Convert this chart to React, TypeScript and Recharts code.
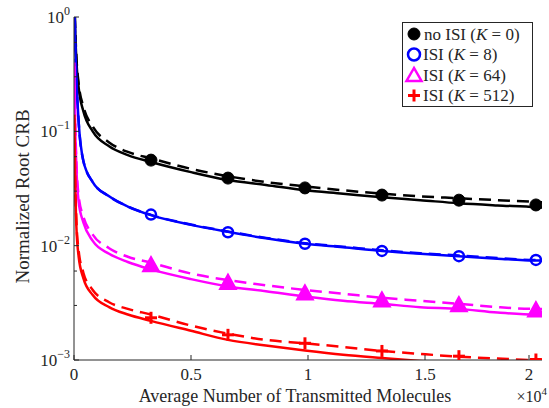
import React from "react";
import { ComposedChart, Line, XAxis, YAxis, Legend } from "recharts";

// x positions of the curve samples (molecules)
const xs = [15, 40, 100, 200, 400, 800, 1500, 2300, 3290, 5000, 6580, 8200, 9870, 11500, 13160, 14800, 16450, 18100, 19740, 20000];

const blackSolid = [1.5, 0.9, 0.42, 0.24, 0.15, 0.1, 0.074, 0.062, 0.054, 0.044, 0.0375, 0.034, 0.0305, 0.0285, 0.0265, 0.025, 0.0235, 0.0225, 0.0217, 0.0215];
const blackDashed = [1.5, 0.95, 0.46, 0.26, 0.165, 0.11, 0.08, 0.066, 0.058, 0.047, 0.0405, 0.036, 0.033, 0.0305, 0.0285, 0.027, 0.026, 0.025, 0.0242, 0.024];
const blueSolid = [2, 0.8, 0.3, 0.12, 0.055, 0.036, 0.027, 0.022, 0.0185, 0.0152, 0.0132, 0.0116, 0.0104, 0.0097, 0.009, 0.0085, 0.0081, 0.0077, 0.0074, 0.0074];
const blueDashed = [2, 0.8, 0.3, 0.12, 0.055, 0.036, 0.027, 0.022, 0.0186, 0.0153, 0.0133, 0.0117, 0.0105, 0.0098, 0.0091, 0.0086, 0.0082, 0.0078, 0.0075, 0.0075];
const magSolid = [0.4, 0.15, 0.05, 0.024, 0.016, 0.011, 0.0085, 0.0072, 0.0062, 0.0051, 0.0044, 0.004, 0.0036, 0.0033, 0.0031, 0.0029, 0.0028, 0.0026, 0.0025, 0.0025];
const magDashed = [0.37, 0.16, 0.055, 0.027, 0.018, 0.0125, 0.0095, 0.008, 0.0071, 0.0057, 0.005, 0.0045, 0.0041, 0.0038, 0.0035, 0.0033, 0.0031, 0.0029, 0.0028, 0.0028];
const redSolid = [0.14, 0.05, 0.015, 0.008, 0.0052, 0.0037, 0.0029, 0.0025, 0.0022, 0.0018, 0.0015, 0.00134, 0.00121, 0.00111, 0.00104, 0.00098, 0.00093, 0.00089, 0.00086, 0.00085];
const redDashed = [0.13, 0.05, 0.017, 0.009, 0.0058, 0.0041, 0.0032, 0.0028, 0.0025, 0.002, 0.0017, 0.0015, 0.0014, 0.0013, 0.0012, 0.00113, 0.00107, 0.00103, 0.001, 0.001];

// marker samples
const markerX = [3290, 6580, 9870, 13160, 16450, 19740];
const blackMarks = [0.056, 0.039, 0.032, 0.0277, 0.025, 0.0227];
const blueMarks = [0.0187, 0.0131, 0.0104, 0.009, 0.0081, 0.0075];
const magMarks = [0.0067, 0.0047, 0.0038, 0.0033, 0.003, 0.0027];
const redMarks = [0.00234, 0.00166, 0.0014, 0.0012, 0.00108, 0.00101];

const xTicks = [0, 5000, 10000, 15000, 20000];
const yTicks: number[] = [];
[0.001, 0.01, 0.1].forEach((d) => {
  for (let k = 1; k < 10; k++) yTicks.push(+(d * k).toPrecision(3));
});
yTicks.push(1);

const lineData = xs.map((x, i) => ({
  x,
  bs: blackSolid[i],
  bd: blackDashed[i],
  us: blueSolid[i],
  ud: blueDashed[i],
  ms: magSolid[i],
  md: magDashed[i],
  rs: redSolid[i],
  rd: redDashed[i],
}));

const markData = markerX.map((x, i) => ({
  x,
  bm: blackMarks[i],
  um: blueMarks[i],
  mm: magMarks[i],
  rm: redMarks[i],
}));

const FONT = "'Liberation Serif', 'DejaVu Serif', serif";
const TXT = "#262626";

const isMajor = (v: number) => Math.abs(Math.log10(v) - Math.round(Math.log10(v))) < 1e-6;

const BottomTick = (props: any) => {
  const { x, y, payload } = props;
  const v = payload.value / 10000;
  return (
    <g>
      <line x1={x} y1={y} x2={x} y2={y - 5} stroke="#262626" />
      <text x={x} y={y + 20} textAnchor="middle" fontSize={17} fontFamily={FONT} fill={TXT}>
        {v}
      </text>
    </g>
  );
};

const TopTick = (props: any) => {
  const { x, y } = props;
  return <line x1={x} y1={y} x2={x} y2={y + 5} stroke="#262626" />;
};

const LeftTick = (props: any) => {
  const { x, y, payload } = props;
  const v = payload.value;
  const major = isMajor(v);
  const e = Math.round(Math.log10(v));
  return (
    <g>
      <line x1={x} y1={y} x2={x + (major ? 5 : 3)} y2={y} stroke="#262626" />
      {major && (
        <text x={x - 4} y={y + 6} textAnchor="end" fontSize={17} fontFamily={FONT} fill={TXT}>
          10
          <tspan fontSize={12} dy={-8}>
            {e === 0 ? "0" : "\u2212" + Math.abs(e)}
          </tspan>
        </text>
      )}
    </g>
  );
};

const RightTick = (props: any) => {
  const { x, y, payload } = props;
  const major = isMajor(payload.value);
  return <line x1={x} y1={y} x2={x - (major ? 5 : 3)} y2={y} stroke="#262626" />;
};

const XTitle = (props: any) => {
  const { viewBox } = props;
  const cx = viewBox.x + viewBox.width / 2 - 13;
  const right = viewBox.x + viewBox.width;
  return (
    <g fontFamily={FONT} fill={TXT}>
      <text x={cx} y={viewBox.y + 42} textAnchor="middle" fontSize={18}>
        Average Number of Transmitted Molecules
      </text>
      <text x={right + 5} y={viewBox.y + 42} textAnchor="end" fontSize={16}>
        {"\u00d710"}
        <tspan fontSize={11} dy={-7}>
          4
        </tspan>
      </text>
    </g>
  );
};

const YTitle = (props: any) => {
  const { viewBox } = props;
  const cy = viewBox.y + viewBox.height / 2 + 8;
  return (
    <text
      x={22}
      y={cy}
      transform={`rotate(-90, 22, ${cy})`}
      textAnchor="middle"
      dominantBaseline="central"
      fontSize={19}
      fontFamily={FONT}
      fill={TXT}
    >
      Normalized Root CRB
    </text>
  );
};

const Marker = ({ cx, cy, kind, color }: any) => {
  if (cx == null || cy == null) return null;
  if (kind === "dot") return <circle cx={cx} cy={cy} r={6} fill={color} stroke={color} />;
  if (kind === "circle") return <circle cx={cx} cy={cy} r={5} fill="none" stroke={color} strokeWidth={2.5} />;
  if (kind === "tri")
    return (
      <polygon
        points={`${cx},${cy - 8} ${cx - 7.5},${cy + 5.5} ${cx + 7.5},${cy + 5.5}`}
        fill={color}
        stroke={color}
        strokeWidth={2.5}
        strokeLinejoin="miter"
      />
    );
  return (
    <g stroke={color} strokeWidth={3}>
      <line x1={cx - 6} y1={cy} x2={cx + 6} y2={cy} />
      <line x1={cx} y1={cy - 6} x2={cx} y2={cy + 6} />
    </g>
  );
};

const legendItems = [
  { kind: "dot", color: "#000000", pre: "no ISI (", k: "0" },
  { kind: "circle", color: "#0000ff", pre: "ISI (", k: "8" },
  { kind: "tri", color: "#ff00ff", pre: "ISI (", k: "64" },
  { kind: "plus", color: "#ff0000", pre: "ISI (", k: "512" },
];

const LegendBox = () => (
  <div
    style={{
      border: "1px solid #262626",
      background: "#fff",
      width: 131,
      height: 85,
      boxSizing: "border-box",
    }}
  >
    <svg width={129} height={83} style={{ display: "block" }}>
      {legendItems.map((it, i) => {
        const cy = 11 + i * 20.5;
        return (
          <g key={i}>
            {it.kind === "tri" ? (
              <polygon
                points={`11,${cy - 7} 3.5,${cy + 6} 18.5,${cy + 6}`}
                fill="#fff"
                stroke={it.color}
                strokeWidth={2.5}
              />
            ) : it.kind === "circle" ? (
              <circle cx={11} cy={cy} r={6} fill="none" stroke={it.color} strokeWidth={2.5} />
            ) : (
              <Marker cx={11} cy={cy} kind={it.kind} color={it.color} />
            )}
            <text x={it.kind === "dot" ? 21 : 20} y={cy + 5.5} fontSize={17} fontFamily={FONT} fill={TXT}>
              {it.pre}
              <tspan fontStyle="italic">K</tspan>
              {" = " + it.k + ")"}
            </text>
          </g>
        );
      })}
    </svg>
  </div>
);

const solid = (key: string, color: string) => (
  <Line
    key={key}
    data={lineData}
    dataKey={key}
    type="monotone"
    stroke={color}
    strokeWidth={2.5}
    dot={false}
    isAnimationActive={false}
    legendType="none"
  />
);

const dashed = (key: string, color: string) => (
  <Line
    key={key}
    data={lineData}
    dataKey={key}
    type="monotone"
    stroke={color}
    strokeWidth={2.5}
    strokeDasharray="12 7"
    dot={false}
    isAnimationActive={false}
    legendType="none"
  />
);

const marks = (key: string, kind: string, color: string) => (
  <Line
    key={key}
    data={markData}
    dataKey={key}
    stroke="none"
    dot={(p: any) => <Marker key={key + p.index} cx={p.cx} cy={p.cy} kind={kind} color={color} />}
    isAnimationActive={false}
    legendType="none"
  />
);

export default function App() {
  return (
    <div style={{ position: "absolute", left: 0, top: 0, background: "#fff" }}>
      <ComposedChart width={549} height={408} margin={{ top: 17, right: 7, bottom: 0, left: 0 }}>
        <XAxis
          dataKey="x"
          type="number"
          domain={[0, 20000]}
          allowDataOverflow
          ticks={xTicks}
          height={48}
          tickSize={0}
          tickMargin={0}
          tickLine={false}
          tick={<BottomTick />}
          stroke="#262626"
          label={<XTitle />}
        />
        <XAxis
          xAxisId="top"
          orientation="top"
          type="number"
          domain={[0, 20000]}
          allowDataOverflow
          ticks={xTicks}
          height={0}
          tickSize={0}
          tickMargin={0}
          tickLine={false}
          tick={<TopTick />}
          stroke="#262626"
        />
        <YAxis
          scale="log"
          type="number"
          domain={[0.001, 1]}
          allowDataOverflow
          ticks={yTicks}
          width={74}
          tickSize={0}
          tickMargin={0}
          tickLine={false}
          tick={<LeftTick />}
          stroke="#262626"
          label={<YTitle />}
        />
        <YAxis
          yAxisId="right"
          orientation="right"
          scale="log"
          type="number"
          domain={[0.001, 1]}
          allowDataOverflow
          ticks={yTicks}
          width={0}
          tickSize={0}
          tickMargin={0}
          tickLine={false}
          tick={<RightTick />}
          stroke="#262626"
        />
        {solid("bs", "#000000")}
        {dashed("bd", "#000000")}
        {solid("us", "#0000ff")}
        {dashed("ud", "#0000ff")}
        {solid("ms", "#ff00ff")}
        {dashed("md", "#ff00ff")}
        {solid("rs", "#ff0000")}
        {dashed("rd", "#ff0000")}
        {marks("bm", "dot", "#000000")}
        {marks("um", "circle", "#0000ff")}
        {marks("mm", "tri", "#ff00ff")}
        {marks("rm", "plus", "#ff0000")}
        <Legend
          layout="vertical"
          align="center"
          verticalAlign="middle"
          content={<LegendBox />}
          wrapperStyle={{ position: "absolute", left: 402, top: 22, width: 131, height: 85 }}
        />
      </ComposedChart>
    </div>
  );
}
